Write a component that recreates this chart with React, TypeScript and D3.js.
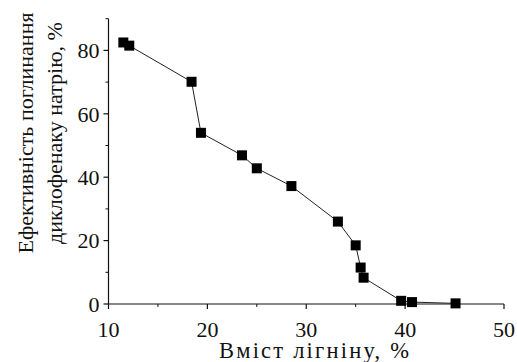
import * as d3 from "d3";

// lignin content, % (x) and sodium diclofenac uptake efficiency, % (y)
const lignin = [11.5, 12.1, 18.4, 19.35, 23.5, 25.0, 28.5, 33.2, 35.0, 35.5, 35.8, 39.6, 40.7, 45.1];
const efficiency = [82.5, 81.5, 70.1, 54.0, 46.9, 42.8, 37.2, 26.0, 18.5, 11.5, 8.3, 1.0, 0.6, 0.2];

const xTicks = [10, 20, 30, 40, 50];
const xMinor = [15, 25, 35, 45];
const yTicks = [0, 20, 40, 60, 80];
const yMinor = [10, 30, 50, 70, 90];

const xTitle = "Вміст лігніну, %";
const yTitle = ["Ефективність поглинання", "диклофенаку натрію, %"];

const W = 517;
const H = 362;
const txt = {
  fontFamily: "Liberation Serif",
  fontSize: "22px",
};

export default function App() {
  const x = d3.scaleLinear().domain([10, 50]).range([108.5, 504]);
  const y = d3.scaleLinear().domain([0, 90]).range([304, 18.7]);

  const pts = lignin.map((v, i) => [v, efficiency[i]] as [number, number]);
  const line = d3
    .line<[number, number]>()
    .x((d) => x(d[0]))
    .y((d) => y(d[1]));

  const x0 = x(10);
  const y0 = y(0);
  const ink = "#111";

  return (
    <svg
      width={W}
      height={H}
      style={{ position: "absolute", left: 0, top: 0, background: "#fff" }}
    >
      {/* axes lines */}
      <line x1={x0} x2={x0} y1={y0} y2={y(90)} stroke={ink} strokeWidth={1.2} />
      <line x1={x0} x2={x(50)} y1={y0} y2={y0} stroke={ink} strokeWidth={1.2} />

      {/* y ticks */}
      {yTicks.map((t) => (
        <g key={"y" + t}>
          <line x1={x0 - 5} x2={x0} y1={y(t)} y2={y(t)} stroke={ink} strokeWidth={1.2} />
          <text x={x0 - 9} y={y(t)} dy="0.35em" textAnchor="end" style={txt} fill={ink}>
            {t}
          </text>
        </g>
      ))}
      {yMinor.map((t) => (
        <line key={"ym" + t} x1={x0 - 3} x2={x0} y1={y(t)} y2={y(t)} stroke={ink} strokeWidth={1} />
      ))}

      {/* x ticks */}
      {xTicks.map((t) => (
        <g key={"x" + t}>
          <line x1={x(t)} x2={x(t)} y1={y0} y2={y0 + 5} stroke={ink} strokeWidth={1.2} />
          <text x={x(t)} y={337} textAnchor="middle" style={txt} fill={ink}>
            {t}
          </text>
        </g>
      ))}
      {xMinor.map((t) => (
        <line key={"xm" + t} x1={x(t)} x2={x(t)} y1={y0} y2={y0 + 3} stroke={ink} strokeWidth={1} />
      ))}

      {/* data */}
      <path d={line(pts) ?? ""} fill="none" stroke="#222" strokeWidth={1} />
      {pts.map((d, i) => (
        <rect key={i} x={x(d[0]) - 5} y={y(d[1]) - 5} width={10} height={10} fill="#000" />
      ))}

      {/* titles */}
      <text
        x={314}
        y={358}
        textAnchor="middle"
        textLength={190}
        lengthAdjust="spacing"
        style={{ ...txt, fontSize: "22.5px" }}
        fill={ink}
      >
        {xTitle}
      </text>
      <text transform="translate(33,133) rotate(-90)" textAnchor="middle" style={txt} fill={ink}>
        <tspan x={0} y={0}>{yTitle[0]}</tspan>
        <tspan x={0} y={28.5}>{yTitle[1]}</tspan>
      </text>
    </svg>
  );
}
